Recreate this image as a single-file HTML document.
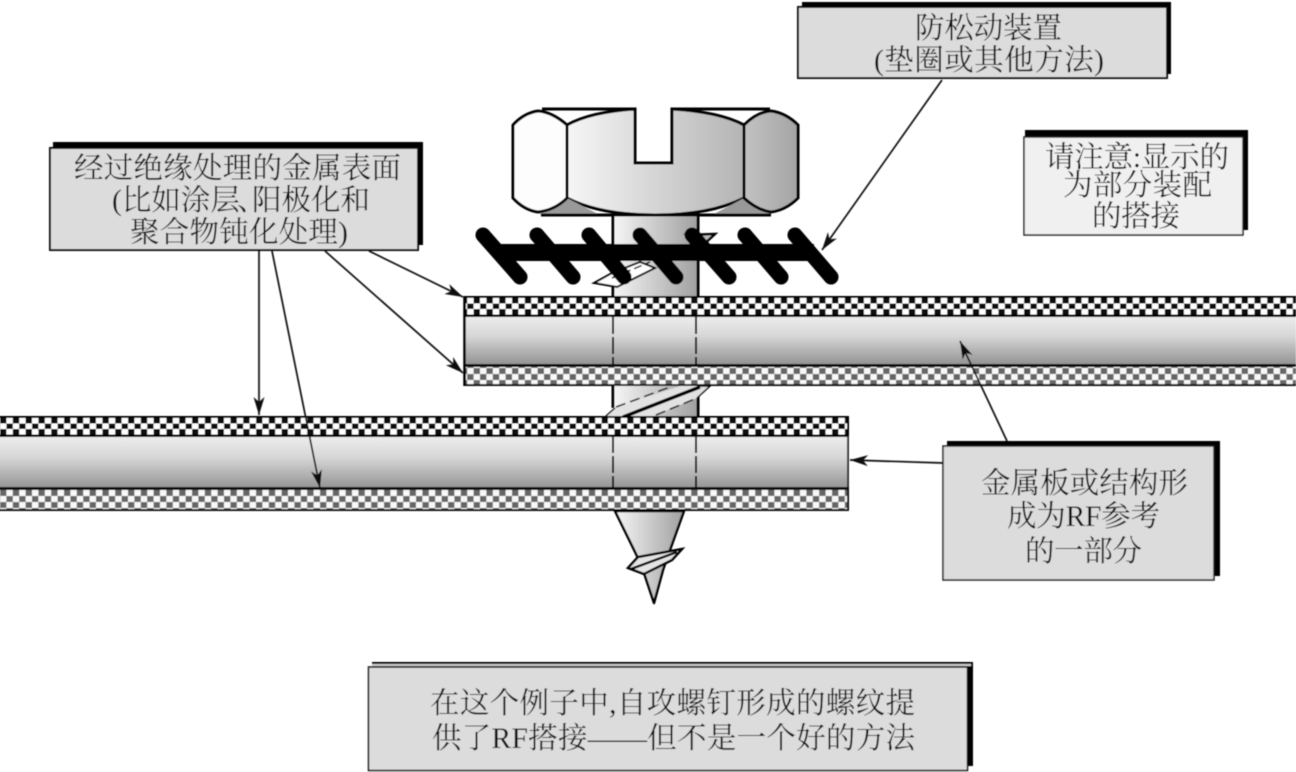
<!DOCTYPE html>
<html><head><meta charset="utf-8"><style>
html,body{margin:0;padding:0;background:#fff;width:1296px;height:772px;overflow:hidden}
svg{display:block}
text{font-family:"Liberation Serif","Noto Serif CJK SC",serif;font-size:29.500px;fill:#111}
</style></head><body>
<svg width="1296" height="772" viewBox="0 0 1296 772" xmlns="http://www.w3.org/2000/svg">
<defs>
<filter id="soft" x="-10" y="-10" width="1316" height="792" filterUnits="userSpaceOnUse"><feGaussianBlur stdDeviation="0.45"/></filter>
<linearGradient id="pl" x1="0" y1="0" x2="0" y2="1"><stop offset="0" stop-color="#ececec"/><stop offset=".4" stop-color="#d6d6d6"/><stop offset="1" stop-color="#929292"/></linearGradient>
<linearGradient id="sh" x1="0" y1="0" x2="1" y2="0"><stop offset="0" stop-color="#f6f6f6"/><stop offset="1" stop-color="#a0a0a0"/></linearGradient>
<linearGradient id="face" x1="0" y1="0" x2="1" y2="0"><stop offset="0" stop-color="#f6f6f6"/><stop offset="1" stop-color="#b4b4b4"/></linearGradient>
<linearGradient id="rf" x1="0" y1="0" x2="1" y2="0"><stop offset="0" stop-color="#c2c2c2"/><stop offset="1" stop-color="#a4a4a4"/></linearGradient>
<pattern id="c1" width="12.800" height="11" patternUnits="userSpaceOnUse" y="298"><rect width="12.800" height="11" fill="#fff"/><rect width="6.400" height="5.500" fill="#111"/><rect x="6.400" y="5.500" width="6.400" height="5.500" fill="#111"/></pattern>
<pattern id="c2" width="12.800" height="11" patternUnits="userSpaceOnUse" y="418"><rect width="12.800" height="11" fill="#fff"/><rect width="6.400" height="5.500" fill="#111"/><rect x="6.400" y="5.500" width="6.400" height="5.500" fill="#111"/></pattern>
<pattern id="c3" width="12.800" height="12" patternUnits="userSpaceOnUse" y="368"><rect width="12.800" height="12" fill="#f8f8f8"/><rect width="6.400" height="6" fill="#666"/><rect x="6.400" y="6" width="6.400" height="6" fill="#666"/></pattern>
<pattern id="c4" width="12.800" height="12" patternUnits="userSpaceOnUse" y="490"><rect width="12.800" height="12" fill="#f8f8f8"/><rect width="6.400" height="6" fill="#666"/><rect x="6.400" y="6" width="6.400" height="6" fill="#666"/></pattern>
<marker id="a" markerUnits="userSpaceOnUse" markerWidth="24" markerHeight="16" refX="22" refY="8" orient="auto"><path d="M22,8 L4,2.500 L9,8 L4,13.500 Z" fill="#111"/></marker>
</defs>
<g filter="url(#soft)">

<!-- shank -->
<rect x="613" y="212" width="85" height="86" fill="url(#sh)" stroke="#000" stroke-width="3"/>
<rect x="613" y="384" width="85" height="34" fill="url(#sh)"/>
<path d="M613,384V408M698,384V418" stroke="#000" stroke-width="3" fill="none"/>

<!-- head -->
<path d="M542,109H635V163H672V109H770" fill="none" stroke="#000" stroke-width="3"/>
<path d="M567,125Q590,112 635,109V163H672V109Q720,112 744,125V198Q710,215 655,215Q600,215 567,198Z" fill="url(#face)" stroke="#000" stroke-width="3"/>
<path d="M567,198L538,213L542,215H600Z" fill="#999"/>
<path d="M744,198L772,213L770,215H712Z" fill="#999"/>
<path d="M541,215H771" stroke="#000" stroke-width="3"/>
<path d="M567,125Q552,112 538,111Q524,113 513,125V198Q524,210 538,212Q555,210 567,198Z" fill="#fdfdfd" stroke="#000" stroke-width="3"/>
<path d="M744,125Q757,112 771,111Q786,113 798,125V198Q786,210 771,212Q757,210 744,198Z" fill="url(#rf)" stroke="#000" stroke-width="3"/>

<!-- upper thread fragments -->
<path d="M594,283L612,273L640,262L655,268L617,287Z" fill="#fff" stroke="#000" stroke-width="2"/>
<path d="M612,278L650,262" stroke="#000" stroke-width="1.500" stroke-dasharray="8,4"/>
<path d="M687,235L715,234L703,245Z" fill="#bbb" stroke="#000" stroke-width="2.500"/>

<!-- lock washer -->
<rect x="498" y="244" width="316" height="17" fill="#000"/>
<g stroke="#000" fill="none" stroke-width="15" stroke-linecap="round">
<path d="M483,235L520,277"/><path d="M537,235L573,277"/><path d="M589,235L624,277"/><path d="M640,235L676,277"/><path d="M692,235L729,277"/><path d="M745,235L781,277"/><path d="M795,235L831,277"/>
</g>

<!-- upper plate -->
<rect x="464" y="296" width="832" height="21" fill="#000"/>
<rect x="466" y="298" width="830" height="16.500" fill="url(#c1)"/>
<rect x="465" y="317" width="831" height="48" fill="url(#pl)"/>
<rect x="464" y="364" width="832" height="22" fill="#111"/>
<rect x="466" y="367" width="830" height="17" fill="url(#c3)"/>
<path d="M464.500,296V386" stroke="#000" stroke-width="2.500"/>
<path d="M613,317V365M696,317V365" stroke="#000" stroke-width="2" stroke-dasharray="17,3"/>

<!-- lower thread -->
<path d="M606,416L615,408L680,386H710L697,398L653,416Z" fill="#e2e2e2"/>
<path d="M623,417L700,387" stroke="#000" stroke-width="3.500"/>
<path d="M616,407L670,387M656,415L697,398" stroke="#000" stroke-width="1.500" stroke-dasharray="10,5"/>
<path d="M606,416L615,408M698,386L710,386L697,398" stroke="#000" stroke-width="1.500" fill="none"/>

<!-- lower plate -->
<rect x="-5" y="416" width="854" height="21" fill="#000"/>
<rect x="-5" y="418" width="852" height="16.500" fill="url(#c2)"/>
<rect x="-5" y="437" width="853" height="52" fill="url(#pl)"/>
<path d="M848,436V489" stroke="#333" stroke-width="2"/>
<rect x="-5" y="487" width="854" height="24" fill="#111"/>
<rect x="-5" y="490" width="852" height="19" fill="url(#c4)"/>
<path d="M613,436V488M696,436V488" stroke="#000" stroke-width="2" stroke-dasharray="17,3"/>

<!-- tip -->
<path d="M615,511H684L670,550L663,570L654,603L644,573L638,558Z" fill="url(#sh)" stroke="#000" stroke-width="2.500" stroke-linejoin="round"/>
<path d="M628,568L638,557L682,549L672,560L644,574Z" fill="#e4e4e4" stroke="#000" stroke-width="2.500"/>
<path d="M631,569L677,552" stroke="#000" stroke-width="2.500"/>

<!-- connectors -->
<g stroke="#111" fill="none" stroke-width="1.700">
<line x1="369" y1="251" x2="463" y2="297" marker-end="url(#a)"/>
<line x1="325" y1="251" x2="463" y2="373" marker-end="url(#a)"/>
<line x1="259" y1="251" x2="259" y2="415" marker-end="url(#a)"/>
<line x1="272" y1="251" x2="320" y2="488" marker-end="url(#a)"/>
<line x1="942" y1="80" x2="822" y2="250" marker-end="url(#a)"/>
<line x1="1007" y1="441" x2="960" y2="341" marker-end="url(#a)"/>
<line x1="943" y1="463" x2="850" y2="460" marker-end="url(#a)"/>
</g>

<!-- box 1 -->
<rect x="53" y="142" width="370" height="103" fill="#000"/>
<rect x="50" y="148" width="368" height="102" fill="#dcdcdc" stroke="#111" stroke-width="2"/>
<text x="74" y="178" textLength="327">经过绝缘处理的金属表面</text>
<text x="112" y="210">(比如涂层</text>
<text x="237" y="210">、</text>
<text x="252" y="210" textLength="118">阳极化和</text>
<text x="130" y="242" textLength="218">聚合物钝化处理)</text>

<!-- box 2 -->
<rect x="802" y="2" width="369" height="72" fill="#000"/>
<rect x="798" y="7" width="369" height="71" fill="#dcdcdc" stroke="#111" stroke-width="2"/>
<text x="915" y="38" textLength="147">防松动装置</text>
<text x="874" y="70" textLength="230">(垫圈或其他方法)</text>

<!-- box 3 -->
<rect x="1025" y="130" width="223" height="100" fill="#000"/>
<rect x="1024" y="137" width="219" height="98" fill="#f0f0f0" stroke="#222" stroke-width="1.500"/>
<text x="1045" y="167" textLength="184">请注意:显示的</text>
<text x="1063" y="195" textLength="149">为部分装配</text>
<text x="1092" y="226" textLength="88">的搭接</text>

<!-- box 4 -->
<rect x="947" y="441" width="273" height="135" fill="#000"/>
<rect x="943" y="446" width="271" height="134" fill="#dcdcdc" stroke="#222" stroke-width="1.500"/>
<text x="981" y="493" textLength="207">金属板或结构形</text>
<text x="1007" y="526" textLength="153">成为RF参考</text>
<text x="1025" y="561" textLength="117">的一部分</text>

<!-- box 5 -->
<rect x="372" y="662" width="601" height="104" fill="#000"/>
<rect x="372" y="664" width="599" height="2" fill="#ccc"/>
<rect x="368.500" y="667" width="599" height="103.500" fill="#dcdcdc" stroke="#111" stroke-width="1.500"/>
<text x="430" y="713" textLength="485">在这个例子中,自攻螺钉形成的螺纹提</text>
<text x="432" y="748" textLength="483">供了RF搭接——但不是一个好的方法</text>
</g>
</svg>
</body></html>
